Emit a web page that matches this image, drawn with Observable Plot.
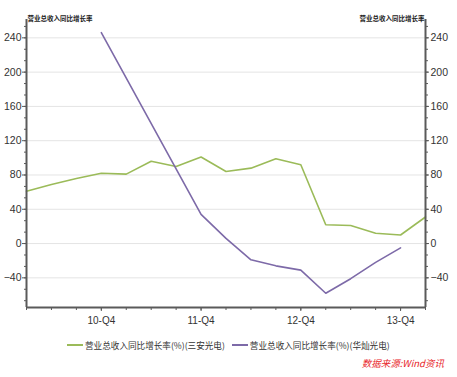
<!DOCTYPE html>
<html>
<head>
<meta charset="utf-8">
<script src="https://cdn.jsdelivr.net/npm/d3@7"></script>
<script src="https://cdn.jsdelivr.net/npm/@observablehq/plot@0.6"></script>
<style>
  html, body { margin: 0; padding: 0; background: #fff; }
  #wrap { position: relative; width: 457px; height: 377px; overflow: hidden; }
  #legend { position: absolute; left: 67px; top: 339px; display: flex; align-items: center;
            font-family: "Noto Sans CJK SC", sans-serif; font-size: 8.6px; color: #333; white-space: nowrap; }
  .sw { display: inline-block; width: 16px; height: 2px; margin-right: 2px; }
  #source { position: absolute; right: 13px; top: 356px; font-family: "Noto Sans CJK SC", sans-serif;
            font-size: 9.5px; font-style: italic; color: #e8262b; white-space: nowrap; }
</style>
</head>
<body>
<div id="wrap"></div>
<script>
const quarters = ["10-Q1","10-Q2","10-Q3","10-Q4","11-Q1","11-Q2","11-Q3","11-Q4",
                  "12-Q1","12-Q2","12-Q3","12-Q4","13-Q1","13-Q2","13-Q3","13-Q4","14-Q1"];
const sananGrowth  = [61, 69, 76, 82, 81, 96, 90, 101, 84, 88, 99, 92, 22, 21, 12, 10, 31];
const huacanGrowth = [null, null, null, 246, null, null, null, 34, 6, -19, -26, -31, -58, -41, -22, -5, null];
const seriesNames = ["营业总收入同比增长率(%)(三安光电)", "营业总收入同比增长率(%)(华灿光电)"];
const seriesColors = ["#9bbb59", "#7d6aa8"];
const axisTitle = "营业总收入同比增长率";
const yMajorTicks = [-40, 0, 40, 80, 120, 160, 200, 240];
const xLabelQuarters = ["10-Q4", "11-Q4", "12-Q4", "13-Q4"];
const sourceText = "数据来源:Wind资讯";
const yDomain = [-74.6, 261.4];

const sananData = quarters.map((q, i) => ({i, q, v: sananGrowth[i]})).filter(d => d.v != null);
const huacanData = quarters.map((q, i) => ({i, q, v: huacanGrowth[i]})).filter(d => d.v != null);
const minorTicks = d3.range(-5, 20).map(k => k * 40 / 3);
const allQuarterIdx = quarters.map((q, i) => i);
const labelIdx = xLabelQuarters.map(q => quarters.indexOf(q));
const axisColor = "#5a5a5a";

const chart = Plot.plot({
  width: 457, height: 335,
  marginLeft: 26, marginRight: 32, marginTop: 19, marginBottom: 28,
  x: {domain: [0, quarters.length - 1], axis: null},
  y: {domain: yDomain, axis: null},
  style: {fontFamily: "'Liberation Sans', Arial, sans-serif", fontSize: "10.5px", color: "#333", background: "white"},
  marks: [
    Plot.gridY(yMajorTicks, {stroke: "#e4e4e4", strokeOpacity: 1}),
    Plot.line(sananData, {x: "i", y: "v", stroke: seriesColors[0], strokeWidth: 1.6}),
    Plot.line(huacanData, {x: "i", y: "v", stroke: seriesColors[1], strokeWidth: 1.6}),
    Plot.axisY(minorTicks, {anchor: "left", tickSize: 2, tickFormat: () => "", label: null, stroke: axisColor}),
    Plot.axisY(minorTicks, {anchor: "right", tickSize: 2, tickFormat: () => "", label: null, stroke: axisColor}),
    Plot.axisY(yMajorTicks, {anchor: "left", tickSize: 4, tickPadding: 1, label: null, stroke: axisColor, fill: "#333"}),
    Plot.axisY(yMajorTicks, {anchor: "right", tickSize: 3, tickPadding: 2, label: null, stroke: axisColor, fill: "#333"}),
    Plot.axisX(allQuarterIdx, {anchor: "bottom", tickSize: 3, tickFormat: () => "", label: null, stroke: axisColor}),
    Plot.axisX(labelIdx, {anchor: "bottom", tickSize: 4, tickPadding: 5, tickFormat: i => quarters[i], label: null, stroke: axisColor, fill: "#333", fontSize: 10}),
    Plot.ruleX([0, quarters.length - 1], {stroke: axisColor, strokeWidth: 2}),
    Plot.ruleY([yDomain[0]], {stroke: axisColor, strokeWidth: 2}),
    Plot.text([axisTitle], {frameAnchor: "top-left", text: d => d, textAnchor: "start", lineAnchor: "middle", dy: -1, dx: 1,
      fontFamily: "'Noto Sans CJK SC', sans-serif", fontSize: 6.5, fontWeight: "bold", fill: "#222"}),
    Plot.text([axisTitle], {frameAnchor: "top-right", text: d => d, textAnchor: "end", lineAnchor: "middle", dy: -1, dx: -1,
      fontFamily: "'Noto Sans CJK SC', sans-serif", fontSize: 6.5, fontWeight: "bold", fill: "#222"})
  ]
});

const wrap = document.getElementById("wrap");
wrap.appendChild(chart);

const legend = document.createElement("div");
legend.id = "legend";
seriesNames.forEach((name, k) => {
  const sw = document.createElement("span");
  sw.className = "sw";
  sw.style.background = seriesColors[k];
  const t = document.createElement("span");
  t.textContent = name;
  t.style.marginRight = k === 0 ? "7px" : "0";
  legend.appendChild(sw);
  legend.appendChild(t);
});
wrap.appendChild(legend);

const src = document.createElement("div");
src.id = "source";
src.textContent = sourceText;
wrap.appendChild(src);
</script>
</body>
</html>
